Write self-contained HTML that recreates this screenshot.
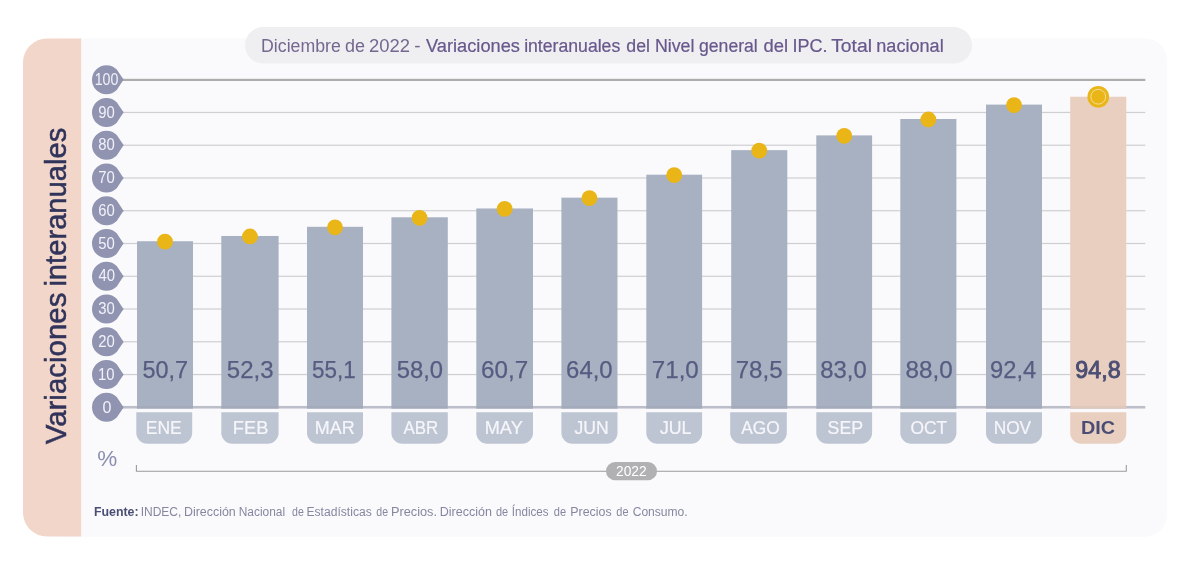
<!DOCTYPE html><html lang="es"><head><meta charset="utf-8"><title>IPC - Variaciones interanuales</title>
<style>html,body{margin:0;padding:0;background:#fff}svg{display:block}text{font-family:"Liberation Sans", sans-serif}</style></head><body>
<svg width="1200" height="567" viewBox="0 0 1200 567">
<rect width="1200" height="567" fill="#ffffff"/>
<path d="M60 38.4H1145a22 22 0 0 1 22 22V514.7a22 22 0 0 1 -22 22H60Z" fill="#fafafc"/>
<path d="M81.2 38.4V536.5H47a24 24 0 0 1 -24 -24V62.4a24 24 0 0 1 24 -24Z" fill="#f2d6c9"/>
<rect x="245" y="27" width="727" height="36.5" rx="18.25" fill="#efeff2"/>
<rect x="120" y="373.94" width="1025.3" height="1.2" fill="#cfcfd3"/>
<rect x="120" y="341.18" width="1025.3" height="1.2" fill="#cfcfd3"/>
<rect x="120" y="308.42" width="1025.3" height="1.2" fill="#cfcfd3"/>
<rect x="120" y="275.66" width="1025.3" height="1.2" fill="#cfcfd3"/>
<rect x="120" y="242.90" width="1025.3" height="1.2" fill="#cfcfd3"/>
<rect x="120" y="210.14" width="1025.3" height="1.2" fill="#cfcfd3"/>
<rect x="120" y="177.38" width="1025.3" height="1.2" fill="#cfcfd3"/>
<rect x="120" y="144.62" width="1025.3" height="1.2" fill="#cfcfd3"/>
<rect x="120" y="111.86" width="1025.3" height="1.2" fill="#cfcfd3"/>
<rect x="120" y="78.80" width="1025.3" height="2.2" fill="#adadae"/>
<rect x="137.00" y="241.21" width="56.00" height="167.09" fill="#a8b1c1"/>
<rect x="221.30" y="235.97" width="57.30" height="172.33" fill="#a8b1c1"/>
<rect x="307.00" y="226.79" width="56.00" height="181.51" fill="#a8b1c1"/>
<rect x="391.40" y="217.29" width="56.40" height="191.01" fill="#a8b1c1"/>
<rect x="476.30" y="208.45" width="56.70" height="199.85" fill="#a8b1c1"/>
<rect x="561.40" y="197.64" width="56.10" height="210.66" fill="#a8b1c1"/>
<rect x="646.30" y="174.70" width="55.80" height="233.60" fill="#a8b1c1"/>
<rect x="731.20" y="150.13" width="56.10" height="258.17" fill="#a8b1c1"/>
<rect x="816.30" y="135.39" width="55.80" height="272.91" fill="#a8b1c1"/>
<rect x="900.30" y="119.01" width="56.10" height="289.29" fill="#a8b1c1"/>
<rect x="986.00" y="104.60" width="56.00" height="303.70" fill="#a8b1c1"/>
<rect x="1070.20" y="96.74" width="56.10" height="311.56" fill="#e8cfbf"/>
<rect x="120" y="405.95" width="1025.3" height="2.6" fill="#bcbfca"/>
<rect x="137.00" y="405.95" width="56.00" height="2.6" fill="#a3abbb"/>
<rect x="221.30" y="405.95" width="57.30" height="2.6" fill="#a3abbb"/>
<rect x="307.00" y="405.95" width="56.00" height="2.6" fill="#a3abbb"/>
<rect x="391.40" y="405.95" width="56.40" height="2.6" fill="#a3abbb"/>
<rect x="476.30" y="405.95" width="56.70" height="2.6" fill="#a3abbb"/>
<rect x="561.40" y="405.95" width="56.10" height="2.6" fill="#a3abbb"/>
<rect x="646.30" y="405.95" width="55.80" height="2.6" fill="#a3abbb"/>
<rect x="731.20" y="405.95" width="56.10" height="2.6" fill="#a3abbb"/>
<rect x="816.30" y="405.95" width="55.80" height="2.6" fill="#a3abbb"/>
<rect x="900.30" y="405.95" width="56.10" height="2.6" fill="#a3abbb"/>
<rect x="986.00" y="405.95" width="56.00" height="2.6" fill="#a3abbb"/>
<rect x="1070.20" y="405.95" width="56.10" height="2.6" fill="#dfc7ba"/>
<path d="M136.30 412.30H192.20V432.70a11 11 0 0 1 -11 11H147.30a11 11 0 0 1 -11 -11Z" fill="#bdc4d2"/>
<text x="145.72" font-size="18.3" textLength="35.94" lengthAdjust="spacingAndGlyphs" y="433.7" fill="#f6f6fa" stroke="#f6f6fa" stroke-width="0.2">ENE</text>
<path d="M221.30 412.30H278.60V432.70a11 11 0 0 1 -11 11H232.30a11 11 0 0 1 -11 -11Z" fill="#bdc4d2"/>
<text x="232.85" font-size="18.3" y="433.7" fill="#f6f6fa" stroke="#f6f6fa" stroke-width="0.2">FEB</text>
<path d="M307.00 412.30H363.00V432.70a11 11 0 0 1 -11 11H318.00a11 11 0 0 1 -11 -11Z" fill="#bdc4d2"/>
<text x="314.77" font-size="18.3" textLength="40.04" lengthAdjust="spacingAndGlyphs" y="433.7" fill="#f6f6fa" stroke="#f6f6fa" stroke-width="0.2">MAR</text>
<path d="M391.40 412.30H447.80V432.70a11 11 0 0 1 -11 11H402.40a11 11 0 0 1 -11 -11Z" fill="#bdc4d2"/>
<text x="403.55" font-size="18.3" textLength="34.78" lengthAdjust="spacingAndGlyphs" y="433.7" fill="#f6f6fa" stroke="#f6f6fa" stroke-width="0.2">ABR</text>
<path d="M476.30 412.30H533.00V432.70a11 11 0 0 1 -11 11H487.30a11 11 0 0 1 -11 -11Z" fill="#bdc4d2"/>
<text x="484.76" font-size="18.3" textLength="38.00" lengthAdjust="spacingAndGlyphs" y="433.7" fill="#f6f6fa" stroke="#f6f6fa" stroke-width="0.2">MAY</text>
<path d="M561.40 412.30H617.50V432.70a11 11 0 0 1 -11 11H572.40a11 11 0 0 1 -11 -11Z" fill="#bdc4d2"/>
<text x="574.51" font-size="18.3" textLength="34.23" lengthAdjust="spacingAndGlyphs" y="433.7" fill="#f6f6fa" stroke="#f6f6fa" stroke-width="0.2">JUN</text>
<path d="M646.30 412.30H702.10V432.70a11 11 0 0 1 -11 11H657.30a11 11 0 0 1 -11 -11Z" fill="#bdc4d2"/>
<text x="659.91" font-size="18.3" textLength="31.59" lengthAdjust="spacingAndGlyphs" y="433.7" fill="#f6f6fa" stroke="#f6f6fa" stroke-width="0.2">JUL</text>
<path d="M730.20 412.30H786.80V432.70a11 11 0 0 1 -11 11H741.20a11 11 0 0 1 -11 -11Z" fill="#bdc4d2"/>
<text x="741.25" font-size="18.3" textLength="38.54" lengthAdjust="spacingAndGlyphs" y="433.7" fill="#f6f6fa" stroke="#f6f6fa" stroke-width="0.2">AGO</text>
<path d="M816.30 412.30H872.10V432.70a11 11 0 0 1 -11 11H827.30a11 11 0 0 1 -11 -11Z" fill="#bdc4d2"/>
<text x="827.58" font-size="18.3" textLength="35.53" lengthAdjust="spacingAndGlyphs" y="433.7" fill="#f6f6fa" stroke="#f6f6fa" stroke-width="0.2">SEP</text>
<path d="M900.30 412.30H956.40V432.70a11 11 0 0 1 -11 11H911.30a11 11 0 0 1 -11 -11Z" fill="#bdc4d2"/>
<text x="910.54" font-size="18.3" textLength="36.64" lengthAdjust="spacingAndGlyphs" y="433.7" fill="#f6f6fa" stroke="#f6f6fa" stroke-width="0.2">OCT</text>
<path d="M986.00 412.30H1042.00V432.70a11 11 0 0 1 -11 11H997.00a11 11 0 0 1 -11 -11Z" fill="#bdc4d2"/>
<text x="993.63" font-size="18.3" textLength="37.54" lengthAdjust="spacingAndGlyphs" y="433.7" fill="#f6f6fa" stroke="#f6f6fa" stroke-width="0.2">NOV</text>
<path d="M1070.20 412.30H1126.30V432.70a11 11 0 0 1 -11 11H1081.20a11 11 0 0 1 -11 -11Z" fill="#e8cfbf"/>
<text x="1081.00" font-size="18.3" font-weight="bold" textLength="34.08" lengthAdjust="spacingAndGlyphs" y="433.7" fill="#4b4e74">DIC</text>
<text x="142.57" font-size="24" textLength="45.56" lengthAdjust="spacingAndGlyphs" y="378.0" fill="#565c81" stroke="#565c81" stroke-width="0.25">50,7</text>
<text x="226.85" font-size="24" y="378.0" fill="#565c81" stroke="#565c81" stroke-width="0.25">52,3</text>
<text x="312.12" font-size="24" textLength="43.67" lengthAdjust="spacingAndGlyphs" y="378.0" fill="#565c81" stroke="#565c81" stroke-width="0.25">55,1</text>
<text x="396.76" font-size="24" textLength="46.35" lengthAdjust="spacingAndGlyphs" y="378.0" fill="#565c81" stroke="#565c81" stroke-width="0.25">58,0</text>
<text x="481.09" font-size="24" textLength="47.09" lengthAdjust="spacingAndGlyphs" y="378.0" fill="#565c81" stroke="#565c81" stroke-width="0.25">60,7</text>
<text x="566.11" font-size="24" textLength="46.51" lengthAdjust="spacingAndGlyphs" y="378.0" fill="#565c81" stroke="#565c81" stroke-width="0.25">64,0</text>
<text x="651.79" font-size="24" textLength="47.03" lengthAdjust="spacingAndGlyphs" y="378.0" fill="#565c81" stroke="#565c81" stroke-width="0.25">71,0</text>
<text x="735.69" font-size="24" textLength="46.93" lengthAdjust="spacingAndGlyphs" y="378.0" fill="#565c81" stroke="#565c81" stroke-width="0.25">78,5</text>
<text x="820.26" font-size="24" textLength="46.46" lengthAdjust="spacingAndGlyphs" y="378.0" fill="#565c81" stroke="#565c81" stroke-width="0.25">83,0</text>
<text x="905.44" font-size="24" textLength="47.19" lengthAdjust="spacingAndGlyphs" y="378.0" fill="#565c81" stroke="#565c81" stroke-width="0.25">88,0</text>
<text x="990.02" font-size="24" textLength="46.14" lengthAdjust="spacingAndGlyphs" y="378.0" fill="#565c81" stroke="#565c81" stroke-width="0.25">92,4</text>
<text x="1075.24" font-size="23.2" textLength="45.40" lengthAdjust="spacingAndGlyphs" y="378.0" fill="#4b4e74" stroke="#4b4e74" stroke-width="0.9">94,8</text>
<circle cx="165.00" cy="241.71" r="7.9" fill="#e9b517"/>
<circle cx="249.95" cy="236.47" r="7.9" fill="#e9b517"/>
<circle cx="335.00" cy="227.29" r="7.9" fill="#e9b517"/>
<circle cx="419.60" cy="217.79" r="7.9" fill="#e9b517"/>
<circle cx="504.65" cy="208.95" r="7.9" fill="#e9b517"/>
<circle cx="589.45" cy="198.14" r="7.9" fill="#e9b517"/>
<circle cx="674.20" cy="175.20" r="7.9" fill="#e9b517"/>
<circle cx="759.25" cy="150.63" r="7.9" fill="#e9b517"/>
<circle cx="844.20" cy="135.89" r="7.9" fill="#e9b517"/>
<circle cx="928.35" cy="119.51" r="7.9" fill="#e9b517"/>
<circle cx="1014.00" cy="105.10" r="7.9" fill="#e9b517"/>
<circle cx="1098.25" cy="96.74" r="10.8" fill="#e9b517"/>
<circle cx="1098.25" cy="96.74" r="7.4" fill="none" stroke="#f7df95" stroke-width="1"/>
<path d="M116.75 397.05A14.50 14.50 0 1 0 116.75 417.55L122.50 408.90Q124.50 407.30 122.50 405.70Z" fill="#9194b1"/>
<text x="102.41" font-size="16" y="412.50" fill="#f1f1fb">0</text>
<path d="M116.75 364.29A14.50 14.50 0 1 0 116.75 384.79L122.50 376.14Q124.50 374.54 122.50 372.94Z" fill="#9194b1"/>
<text x="98.00" font-size="16" textLength="16.55" lengthAdjust="spacingAndGlyphs" y="379.74" fill="#f1f1fb">10</text>
<path d="M116.75 331.53A14.50 14.50 0 1 0 116.75 352.03L122.50 343.38Q124.50 341.78 122.50 340.18Z" fill="#9194b1"/>
<text x="98.23" font-size="16" textLength="16.55" lengthAdjust="spacingAndGlyphs" y="346.98" fill="#f1f1fb">20</text>
<path d="M116.75 298.77A14.50 14.50 0 1 0 116.75 319.27L122.50 310.62Q124.50 309.02 122.50 307.42Z" fill="#9194b1"/>
<text x="98.23" font-size="16" textLength="16.55" lengthAdjust="spacingAndGlyphs" y="314.22" fill="#f1f1fb">30</text>
<path d="M116.75 266.01A14.50 14.50 0 1 0 116.75 286.51L122.50 277.86Q124.50 276.26 122.50 274.66Z" fill="#9194b1"/>
<text x="98.46" font-size="16" textLength="16.55" lengthAdjust="spacingAndGlyphs" y="281.46" fill="#f1f1fb">40</text>
<path d="M116.75 233.25A14.50 14.50 0 1 0 116.75 253.75L122.50 245.10Q124.50 243.50 122.50 241.90Z" fill="#9194b1"/>
<text x="98.23" font-size="16" textLength="16.55" lengthAdjust="spacingAndGlyphs" y="248.70" fill="#f1f1fb">50</text>
<path d="M116.75 200.49A14.50 14.50 0 1 0 116.75 220.99L122.50 212.34Q124.50 210.74 122.50 209.14Z" fill="#9194b1"/>
<text x="98.23" font-size="16" textLength="16.55" lengthAdjust="spacingAndGlyphs" y="215.94" fill="#f1f1fb">60</text>
<path d="M116.75 167.73A14.50 14.50 0 1 0 116.75 188.23L122.50 179.58Q124.50 177.98 122.50 176.38Z" fill="#9194b1"/>
<text x="98.23" font-size="16" textLength="16.55" lengthAdjust="spacingAndGlyphs" y="183.18" fill="#f1f1fb">70</text>
<path d="M116.75 134.97A14.50 14.50 0 1 0 116.75 155.47L122.50 146.82Q124.50 145.22 122.50 143.62Z" fill="#9194b1"/>
<text x="98.23" font-size="16" textLength="16.55" lengthAdjust="spacingAndGlyphs" y="150.42" fill="#f1f1fb">80</text>
<path d="M116.75 102.21A14.50 14.50 0 1 0 116.75 122.71L122.50 114.06Q124.50 112.46 122.50 110.86Z" fill="#9194b1"/>
<text x="98.23" font-size="16" textLength="16.55" lengthAdjust="spacingAndGlyphs" y="117.66" fill="#f1f1fb">90</text>
<path d="M116.75 69.45A14.50 14.50 0 1 0 116.75 89.95L122.50 81.30Q124.50 79.70 122.50 78.10Z" fill="#9194b1"/>
<text x="94.67" font-size="16" textLength="23.77" lengthAdjust="spacingAndGlyphs" y="84.90" fill="#f1f1fb">100</text>
<text x="97.27" font-size="22.5" y="465.5" fill="#8a8eb0">%</text>
<path d="M136.4 465V471.2H1126.3V465" fill="none" stroke="#9a9a9e" stroke-width="1.1"/>
<rect x="606" y="462" width="51" height="18.3" rx="9.15" fill="#b1b1b3"/>
<text x="616.02" font-size="13.8" y="475.8" fill="#ffffff">2022</text>
<text y="515.7" fill="#85879f"><tspan x="93.93" font-size="12" font-weight="bold" textLength="44.70" lengthAdjust="spacingAndGlyphs" fill="#4b4e74">Fuente:</tspan> <tspan x="140.70" font-size="12">INDEC,</tspan> <tspan x="183.96" font-size="12" textLength="51.83" lengthAdjust="spacingAndGlyphs">Dirección</tspan> <tspan x="238.71" font-size="12" textLength="46.44" lengthAdjust="spacingAndGlyphs">Nacional</tspan> <tspan x="292.06" font-size="12" textLength="11.78" lengthAdjust="spacingAndGlyphs">de</tspan> <tspan x="306.49" font-size="12" textLength="65.27" lengthAdjust="spacingAndGlyphs">Estadísticas</tspan> <tspan x="376.26" font-size="12" textLength="11.78" lengthAdjust="spacingAndGlyphs">de</tspan> <tspan x="390.94" font-size="12" textLength="46.04" lengthAdjust="spacingAndGlyphs">Precios.</tspan> <tspan x="439.76" font-size="12" textLength="52.24" lengthAdjust="spacingAndGlyphs">Dirección</tspan> <tspan x="495.94" font-size="12" textLength="12.21" lengthAdjust="spacingAndGlyphs">de</tspan> <tspan x="511.83" font-size="12" textLength="36.78" lengthAdjust="spacingAndGlyphs">Índices</tspan> <tspan x="553.74" font-size="12" textLength="12.32" lengthAdjust="spacingAndGlyphs">de</tspan> <tspan x="570.27" font-size="12" textLength="41.37" lengthAdjust="spacingAndGlyphs">Precios</tspan> <tspan x="616.34" font-size="12" textLength="12.21" lengthAdjust="spacingAndGlyphs">de</tspan> <tspan x="632.70" font-size="12" textLength="55.01" lengthAdjust="spacingAndGlyphs">Consumo.</tspan></text>
<text y="52.4" fill="#68588c"><tspan x="261.09" font-size="18.8" textLength="79.66" lengthAdjust="spacingAndGlyphs" fill="#75678f">Diciembre</tspan> <tspan x="345.08" font-size="18.8" textLength="19.97" lengthAdjust="spacingAndGlyphs" fill="#75678f">de</tspan> <tspan x="369.02" font-size="18.8" textLength="40.99" lengthAdjust="spacingAndGlyphs" fill="#75678f">2022</tspan> <tspan x="414.32" font-size="18.8" fill="#75678f">-</tspan> <tspan x="426.06" font-size="18.8" textLength="93.87" lengthAdjust="spacingAndGlyphs" stroke="#68588c" stroke-width="0.22">Variaciones</tspan> <tspan x="524.13" font-size="18.8" textLength="96.12" lengthAdjust="spacingAndGlyphs" stroke="#68588c" stroke-width="0.22">interanuales</tspan> <tspan x="626.29" font-size="18.8" textLength="23.66" lengthAdjust="spacingAndGlyphs" stroke="#68588c" stroke-width="0.22">del</tspan> <tspan x="654.88" font-size="18.8" textLength="39.61" lengthAdjust="spacingAndGlyphs" stroke="#68588c" stroke-width="0.22">Nivel</tspan> <tspan x="699.00" font-size="18.8" textLength="58.79" lengthAdjust="spacingAndGlyphs" stroke="#68588c" stroke-width="0.22">general</tspan> <tspan x="763.47" font-size="18.8" textLength="24.53" lengthAdjust="spacingAndGlyphs" stroke="#68588c" stroke-width="0.22">del</tspan> <tspan x="792.52" font-size="18.8" textLength="34.98" lengthAdjust="spacingAndGlyphs" stroke="#68588c" stroke-width="0.22">IPC.</tspan> <tspan x="831.19" font-size="18.8" textLength="40.82" lengthAdjust="spacingAndGlyphs" stroke="#68588c" stroke-width="0.22">Total</tspan> <tspan x="876.30" font-size="18.8" textLength="67.38" lengthAdjust="spacingAndGlyphs" stroke="#68588c" stroke-width="0.22">nacional</tspan></text>
<g transform="translate(66.2 0) rotate(-90)" fill="#30335a" stroke="#30335a" stroke-width="0.5">
<text y="0"><tspan x="-444.25" font-size="29" textLength="151.61" lengthAdjust="spacingAndGlyphs">Variaciones</tspan> <tspan x="-286.61" font-size="29" textLength="158.92" lengthAdjust="spacingAndGlyphs">interanuales</tspan></text>
</g>
</svg></body></html>
